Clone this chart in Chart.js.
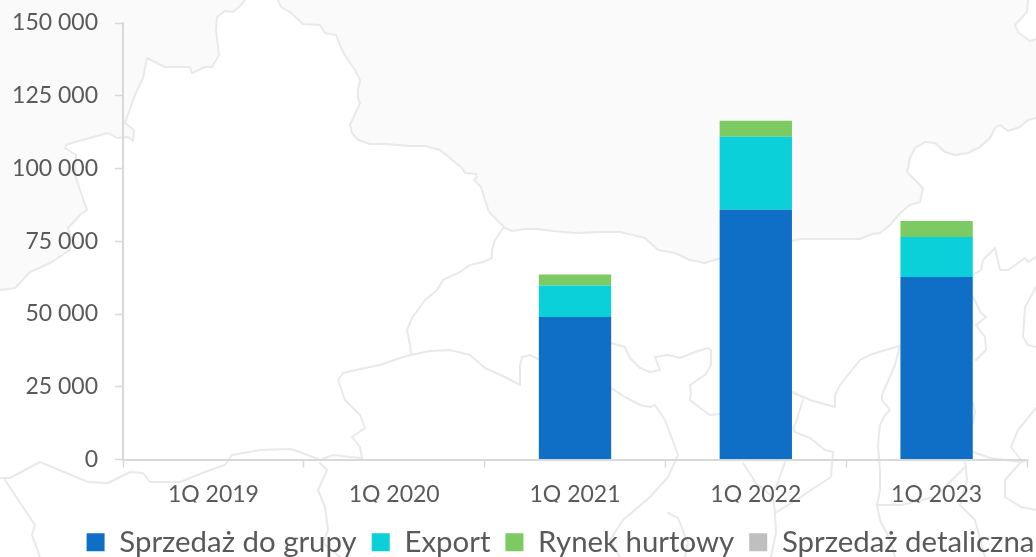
<!DOCTYPE html>
<html><head><meta charset="utf-8">
<style>html,body{margin:0;padding:0;background:#fff}#w{position:relative;width:1036px;height:557px}</style>
<script src="https://cdn.jsdelivr.net/npm/chart.js@4"></script></head>
<body><div id="w"><canvas id="c" width="1036" height="557"></canvas></div>
<script>
const categories = ['1Q 2019','1Q 2020','1Q 2021','1Q 2022','1Q 2023'];
const sprzedazDoGrupy = [0,0,49000,85800,62700];
const exportSales = [0,0,10800,25100,13800];
const rynekHurtowy = [0,0,3800,5500,5500];
const sprzedazDetaliczna = [0,0,0,0,0];

// decorative background map (not data)
const mapBorder = [[0,290],[15,288],[30,272],[50,263],[70,250],[71,238],[68,228],[80,215],[87,210],[80,190],[75,175],[76,155],[65,148],[66,145],[75,142],[108,133],[117,138],[128,137],[133,141],[134,130],[125,123],[135,95],[143,78],[147,58],[155,62],[165,67],[190,67],[192,73],[205,67],[212,67],[219,55],[216,30],[217,17],[225,11],[233,12],[240,6],[245,0]];
const mapBorder2 = [[278,0],[281,7],[290,12],[303,24],[320,25],[325,33],[336,35],[342,50],[348,60],[355,70],[360,80],[358,90],[358,98],[360,103],[350,125],[352,133],[358,140],[370,144],[385,144],[410,146],[425,146],[440,150],[462,168],[465,173],[476,174],[477,177],[474,180],[481,187],[485,200],[489,212],[505,228],[512,231],[525,229],[538,229],[553,231],[575,233],[600,232],[620,232],[645,238],[658,250],[675,253],[690,260],[705,263],[718,259],[800,239],[850,239],[860,239],[872,234],[880,233],[890,225],[900,213],[910,205],[920,202],[923,188],[907,172],[910,158],[915,148],[925,142],[935,143],[945,152],[955,155],[968,153],[980,147],[990,138],[995,128],[1000,125],[1008,131],[1020,127],[1028,120],[1036,118]];
const mapCorner = [[1028,0],[1027,12],[1015,25],[1018,32],[1030,41],[1036,39]];
const mapLines = [
 [[503,228],[495,240],[492,250],[492,258],[483,262],[470,265],[460,272],[443,280],[437,290],[425,300],[412,318],[407,330],[410,345],[411,355]],
 [[343,373],[365,368],[380,365],[400,358],[411,355],[430,351],[450,350],[470,355],[485,368],[505,377],[520,385],[520,365],[522,357],[530,355],[540,360]],
 [[343,373],[338,380],[345,400],[360,415],[365,428],[352,437],[360,447],[362,458],[350,457],[333,455],[320,460],[300,452],[290,449],[260,450],[232,455],[225,465],[210,470],[180,482],[150,482],[143,473],[130,472],[108,483],[88,482],[40,462],[10,478],[0,478]],
 [[5,480],[25,510],[35,525],[32,535],[40,557]],
 [[320,463],[327,470],[318,490],[325,507],[328,530],[323,543],[340,557]],
 [[611,388],[625,397],[640,405],[650,407],[655,405],[665,420],[668,428],[678,455],[668,477],[650,497],[623,520],[610,540],[620,557]],
 [[611,343],[625,347],[630,358],[640,368],[650,372],[660,370],[655,357],[668,355],[680,358],[695,352],[708,348],[711,350],[711,365],[705,375],[690,385],[691,393],[690,400],[700,408],[710,415],[720,414]],
 [[668,513],[678,518],[688,543],[685,557]],
 [[792,392],[810,400],[835,407],[835,395],[840,385],[860,360],[870,355],[885,350],[900,346],[895,365],[882,395],[882,400],[890,410],[885,415],[880,425],[878,445],[880,470],[880,490],[877,505],[880,520],[890,540],[895,557]],
 [[803,400],[795,425],[793,428],[795,432],[810,438],[825,450],[833,452],[831,477],[811,490],[801,497],[775,513]],
 [[743,463],[756,483],[773,497],[775,513],[776,533],[771,557]],
 [[785,462],[775,490]],
 [[877,505],[901,505],[935,497],[965,467]],
 [[973,297],[981,313],[986,317],[976,325],[985,337],[986,350],[976,360]],
 [[973,403],[975,412],[973,423]],
 [[973,452],[990,458],[1005,460],[1021,462],[1028,460]],
 [[1021,462],[1005,480],[1005,497],[1021,507],[1036,510]],
 [[1036,287],[1025,307],[1023,337],[1028,345],[1036,347]],
 [[1036,408],[1018,430],[1011,447],[1021,460]],
 [[973,275],[981,270],[983,260],[995,248],[1000,270],[1008,270],[1025,258],[1028,262],[1036,257]],
 [[965,460],[967,480],[960,505],[975,520],[985,557]]
];

const mapPlugin = {
  id:'mapBackground',
  afterLayout(chart){
    // the legend sits off-centre in the reference
    const dx=47, dy=10, l=chart.legend;
    l.left+=dx; l.right+=dx; l.top+=dy; l.bottom+=dy;
  },
  beforeDraw(chart){
    const g = chart.ctx;
    g.save();
    g.fillStyle='#fff'; g.fillRect(0,0,chart.width,chart.height);
    g.fillStyle='#fafafa';
    g.beginPath(); g.moveTo(0,0);
    g.lineTo(0,290);
    mapBorder.forEach(p=>g.lineTo(p[0],p[1]));
    mapBorder2.forEach(p=>g.lineTo(p[0],p[1]));
    g.lineTo(1036,39);
    [...mapCorner].reverse().forEach(p=>g.lineTo(p[0],p[1]));
    g.closePath(); g.fill();
    g.strokeStyle='#e9e9e9'; g.lineWidth=2; g.lineJoin='round'; g.lineCap='round';
    [mapBorder,mapBorder2,mapCorner,...mapLines].forEach(l=>{
      g.beginPath(); l.forEach((p,i)=>i?g.lineTo(p[0],p[1]):g.moveTo(p[0],p[1])); g.stroke();
    });
    g.restore();
  }
};

const FONT='Lato, Carlito, sans-serif';
new Chart(document.getElementById('c'),{
  type:'bar',
  data:{labels:categories,datasets:[
    {label:'Sprzedaż do grupy',data:sprzedazDoGrupy,backgroundColor:'#0f6fc6'},
    {label:'Export',data:exportSales,backgroundColor:'#0bd0d9'},
    {label:'Rynek hurtowy',data:rynekHurtowy,backgroundColor:'#7cca62'},
    {label:'Sprzedaż detaliczna',data:sprzedazDetaliczna,backgroundColor:'#bfbfbf'}
  ]},
  plugins:[mapPlugin],
  options:{
    responsive:false,animation:false,
    layout:{padding:{top:23,right:9,left:0,bottom:0}},
    datasets:{bar:{barPercentage:0.4,categoryPercentage:1}},
    plugins:{
      tooltip:{enabled:false},
      legend:{position:'bottom',labels:{boxWidth:18,boxHeight:18,padding:15,color:'#595959',font:{family:FONT,size:29.4}}}
    },
    scales:{
      x:{stacked:true,
        border:{color:'#d9d9d9',width:2},
        grid:{drawOnChartArea:false,color:'#d9d9d9',tickLength:8,tickWidth:1.5,offset:true},
        ticks:{color:'#595959',padding:13,maxRotation:0,font:{family:FONT,size:23}},
        afterFit(s){s.height=43;}
      },
      y:{stacked:true,min:0,max:150000,
        border:{color:'#d9d9d9',width:2},
        grid:{drawOnChartArea:false,color:'#d9d9d9',tickLength:8,tickWidth:1.5},
        ticks:{color:'#595959',padding:17,stepSize:25000,font:{family:FONT,size:23},
          callback:v=>String(v).replace(/\B(?=(\d{3})+$)/g,' ')},
        afterFit(s){s.width=123;s.paddingTop=0;s.paddingBottom=0;}
      }
    }
  }
});
</script></body></html>
